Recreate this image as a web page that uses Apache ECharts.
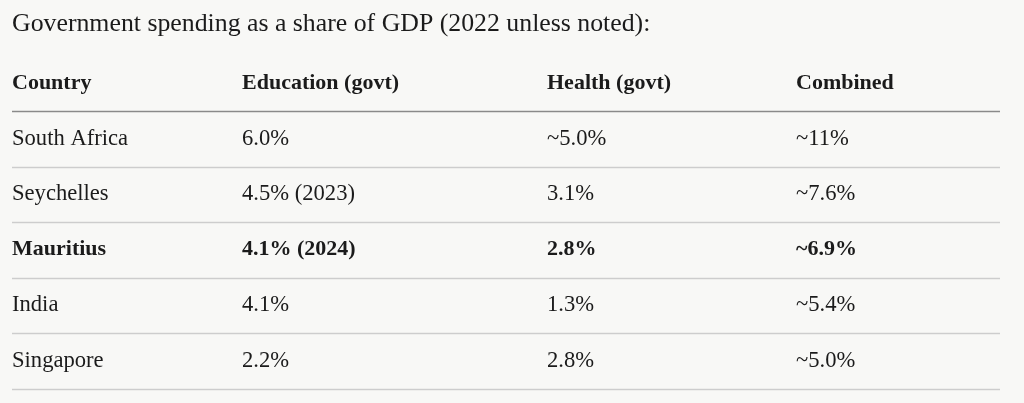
<!DOCTYPE html>
<html>
<head>
<meta charset="utf-8">
<script src="https://cdn.jsdelivr.net/npm/echarts@6/dist/echarts.min.js"></script>
<style>
  html, body { margin: 0; padding: 0; background: #f8f8f6; }
  #main { width: 1024px; height: 403px; }
</style>
</head>
<body>
<div id="main"></div>
<script>
// table contents
const title = 'Government spending as a share of GDP (2022 unless noted):';
const headers = ['Country', 'Education (govt)', 'Health (govt)', 'Combined'];
const countries = ['South Africa', 'Seychelles', 'Mauritius', 'India', 'Singapore'];
const education = ['6.0%', '4.5% (2023)', '4.1% (2024)', '4.1%', '2.2%'];
const health = ['~5.0%', '3.1%', '2.8%', '1.3%', '2.8%'];
const combined = ['~11%', '~7.6%', '~6.9%', '~5.4%', '~5.0%'];
const highlighted = ['Mauritius'];

// layout: column starts relative to the grid's left edge
const colOffsets = [0, 230, 535, 784];
const FONT = '"Liberation Serif", "Times New Roman", serif';
const TEXT = '#1b1b1b';

const rowKeys = ['header'].concat(countries);

const chart = echarts.init(document.getElementById('main'));

const renderRow = (params, api) => {
  const row = api.value(1);
  const center = api.coord([0, row]);
  const band = api.size([0, 1])[1];
  const cs = params.coordSys;
  const isHeader = row === 0;
  const cells = isHeader
    ? headers
    : [countries[row - 1], education[row - 1], health[row - 1], combined[row - 1]];
  const bold = isHeader || highlighted.indexOf(countries[row - 1]) !== -1;

  const children = cells.map((txt, i) => ({
    type: 'text',
    x: api.coord([colOffsets[i], row])[0],
    y: center[1],
    style: {
      text: txt,
      font: bold ? 'bold 22px ' + FONT : '22.6px ' + FONT,
      fill: TEXT,
      align: 'left',
      verticalAlign: 'middle',
    },
  }));

  const yLine = Math.round(center[1] + band / 2) + 0.5;
  children.push({
    type: 'line',
    shape: { x1: cs.x, y1: yLine, x2: cs.x + cs.width, y2: yLine },
    style: { stroke: isHeader ? '#8a8a8a' : '#cdcdcd', lineWidth: 1.3 },
  });

  return { type: 'group', children };
};

chart.setOption({
  backgroundColor: '#f8f8f6',
  animation: false,
  title: {
    text: title,
    left: 12,
    top: 10,
    padding: 0,
    textStyle: {
      fontFamily: FONT,
      fontSize: 25.8,
      fontWeight: 'normal',
      color: TEXT,
      lineHeight: 28,
    },
  },
  grid: { left: 12, right: 24, top: 55.5, bottom: 14.5 },
  xAxis: {
    type: 'value',
    min: 0,
    max: 988,
    show: false,
  },
  yAxis: {
    type: 'category',
    data: rowKeys,
    inverse: true,
    show: false,
  },
  series: [
    {
      type: 'custom',
      renderItem: renderRow,
      encode: { x: 0, y: 1 },
      data: rowKeys.map((_, i) => [0, i]),
    },
  ],
});
</script>
</body>
</html>
